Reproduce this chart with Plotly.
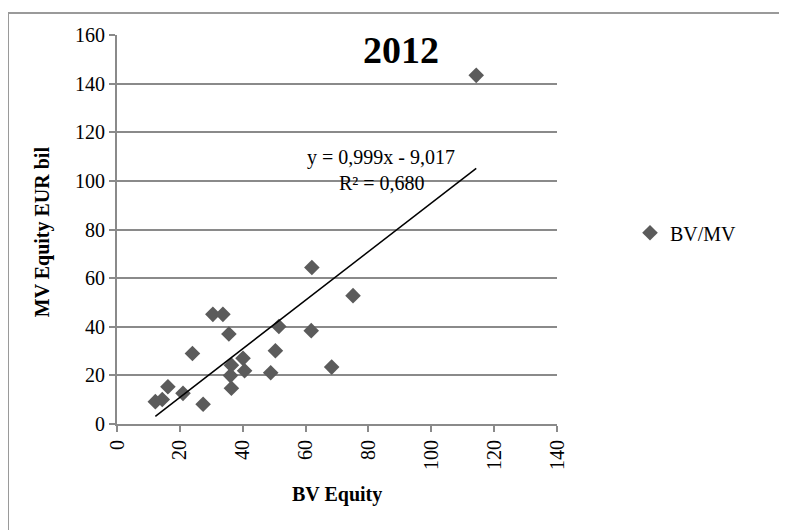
import plotly.graph_objects as go

# Data
bv_equity = [12.2, 14.4, 16.2, 21.0, 24.0, 27.4, 30.5, 33.7, 35.6, 36.4, 36.1,
             36.4, 40.1, 40.6, 48.9, 50.4, 51.5, 61.8, 62.0, 68.3, 75.1, 114.3]
mv_equity = [9.2, 10.1, 15.3, 12.6, 29.0, 8.1, 45.1, 45.1, 37.0, 24.2, 19.9,
             14.7, 27.0, 21.9, 21.1, 30.1, 40.1, 38.4, 64.4, 23.4, 52.8, 143.4]
series_name = "BV/MV"
slope = 0.999
intercept = -9.017
r_squared = 0.680
x_ticks = [0, 20, 40, 60, 80, 100, 120, 140]
y_ticks = [0, 20, 40, 60, 80, 100, 120, 140, 160]
chart_label = "2012"

FONT = "Liberation Serif"
OFF = 8  # page body margin
W, H = 787, 530
PL, PR, PT, PB = 117, 557, 35, 424.5   # plot area in screen pixels
L = PL - OFF
T = PT - OFF
pw = PR - PL
ph = PB - PT
R = W - L - pw
B = H - T - ph

def px_x(p):
    return (p - PL) / pw

def px_y(p):
    return (PB - p) / ph

def fmt(v):
    return f"{abs(v):.3f}".replace(".", ",")

fig = go.Figure()
fig.add_trace(go.Scatter(
    x=bv_equity, y=mv_equity, mode="markers", name=series_name,
    marker=dict(symbol="diamond", size=12, color="#5b5b5b", line=dict(width=0)),
))
x_line = [min(bv_equity), max(bv_equity)]
y_line = [slope * v + intercept for v in x_line]
fig.add_trace(go.Scatter(
    x=x_line, y=y_line, mode="lines", showlegend=False,
    line=dict(color="black", width=1.5), hoverinfo="skip",
))

sign = "-" if intercept < 0 else "+"
eq_text = f"y = {fmt(slope)}x {sign} {fmt(intercept)}"
r2_text = f"R² = {fmt(r_squared)}"

FS = 20
annotations = [
    dict(text=eq_text, x=px_x(381), y=px_y(158), xref="paper", yref="paper",
         showarrow=False, font=dict(family=FONT, size=FS, color="black"),
         xanchor="center", yanchor="middle"),
    dict(text=r2_text, x=px_x(382), y=px_y(183), xref="paper", yref="paper",
         showarrow=False, font=dict(family=FONT, size=FS, color="black"),
         xanchor="center", yanchor="middle"),
    dict(text=f"<b>{chart_label}</b>", x=px_x(401), y=px_y(50), xref="paper", yref="paper",
         showarrow=False, font=dict(family=FONT, size=38, color="black"),
         xanchor="center", yanchor="middle"),
    dict(text="<b>MV Equity EUR bil</b>", x=px_x(42.5), y=px_y(232), xref="paper", yref="paper",
         showarrow=False, textangle=-90, font=dict(family=FONT, size=FS, color="black"),
         xanchor="center", yanchor="middle"),
    dict(text="<b>BV Equity</b>", x=px_x(337), y=px_y(495), xref="paper", yref="paper",
         showarrow=False, font=dict(family=FONT, size=FS, color="black"),
         xanchor="center", yanchor="middle"),
]

fig.update_layout(
    width=W, height=H,
    margin=dict(l=L, r=R, t=T, b=B, autoexpand=False),
    paper_bgcolor="white", plot_bgcolor="white",
    font=dict(family=FONT, size=FS, color="black"),
    showlegend=True,
    legend=dict(x=px_x(630), y=px_y(233), xanchor="left", yanchor="middle",
                font=dict(family=FONT, size=FS, color="black"), bgcolor="rgba(0,0,0,0)"),
    annotations=annotations,
    shapes=[dict(type="rect", xref="paper", yref="paper",
                 x0=px_x(8), x1=px_x(800), y0=px_y(545), y1=px_y(13),
                 line=dict(color="#9a9a9a", width=2), layer="below")],
    xaxis=dict(range=[0, 140], tickvals=x_ticks, ticktext=[str(v) for v in x_ticks],
               tickangle=-90, showgrid=False, zeroline=False,
               showline=True, linecolor="#8a8a8a", linewidth=2,
               ticks="outside", ticklen=6, tickcolor="#8a8a8a", tickwidth=1.5,
               tickfont=dict(family=FONT, size=FS, color="black")),
    yaxis=dict(range=[0, 160], tickvals=y_ticks, ticktext=[str(v) for v in y_ticks],
               showgrid=True, gridcolor="#8a8a8a", gridwidth=1.5, zeroline=False,
               showline=True, linecolor="#8a8a8a", linewidth=2,
               ticks="outside", ticklen=6, tickcolor="#8a8a8a", tickwidth=1.5,
               tickfont=dict(family=FONT, size=FS, color="black")),
)

fig.write_html("out.html")
